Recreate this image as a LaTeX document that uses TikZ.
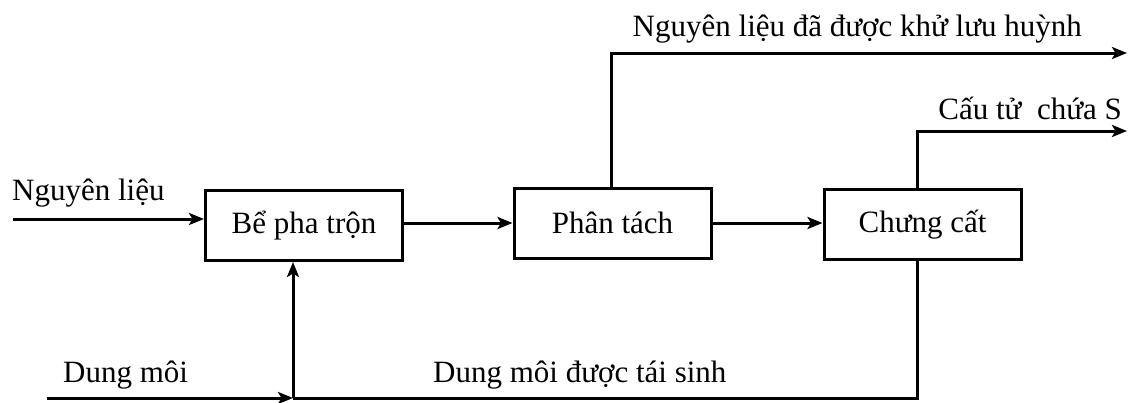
\documentclass[tikz,border=0pt]{standalone}
\usepackage{fontspec}
\setmainfont{Liberation Serif}
\usetikzlibrary{arrows.meta,calc}

\tikzset{
  flow/.style={line width=3pt, line cap=butt, line join=miter},
  arrowflow/.style={flow, -{Stealth[length=15pt,width=12pt,inset=3.5pt]}},
  unit/.style={draw, line width=3pt, minimum width=197pt, minimum height=70pt,
    inner sep=0pt, font=\fontsize{31}{35}\selectfont},
  lbl/.style={inner sep=0pt, font=\fontsize{31}{35}\selectfont}
}

\begin{document}
\begin{tikzpicture}[x=1pt,y=-1pt]
  \useasboundingbox (0,0) rectangle (1128,402);

  % process units
  \node[unit] (mix)  at (304,225.5) {Bể pha trộn};
  \node[unit] (sep)  at (612.5,223) {Phân tách};
  \node[unit] (dist) at (922.5,224.5) {Chưng cất};

  % free ends of the streams
  \coordinate (feedin)  at (13,219);
  \coordinate (solvin)  at (47,398);
  \coordinate (join)    at (293,398);
  \coordinate (prodout) at (1127,53);
  \coordinate (sout)    at (1127,131);
  \coordinate (distup)  at (917,224.5);

  % stream labels
  \node[lbl, anchor=base west] (feedlbl)  at (12,200)   {Nguyên liệu};
  \node[lbl, anchor=base west] (solvlbl)  at (63,382)   {Dung môi};
  \node[lbl, anchor=base west] (reclbl)   at (433,382)  {Dung môi được tái sinh};
  \node[lbl, anchor=base east] (prodlbl)  at (1082,36)  {Nguyên liệu đã được khử lưu huỳnh};
  \node[lbl, anchor=base east] (slbl)     at (1122,119) {Cấu tử\ \ chứa S};

  % feed and transfers between units
  \draw[arrowflow] (feedin) -- (feedin -| mix.west);
  \draw[arrowflow] (mix.east |- sep.west) -- (sep.west);
  \draw[arrowflow] (sep.east) -- (sep.east -| dist.west);

  % products
  \draw[arrowflow] ([xshift=-1.5pt]sep.north) |- (prodout);
  \draw[arrowflow] (distup |- dist.north) |- (sout);

  % solvent make-up and recycle
  \draw[flow] (distup |- dist.south) |- (join);
  \draw[arrowflow] (solvin) -- (join);
  \draw[arrowflow] (join) -- (join |- mix.south);
\end{tikzpicture}
\end{document}
